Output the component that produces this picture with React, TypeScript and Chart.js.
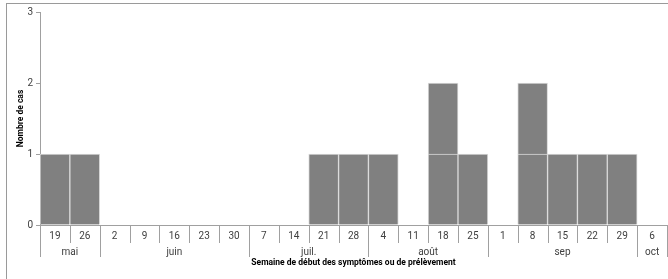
import React, { useEffect, useRef } from 'react';
import { Chart, registerables } from 'chart.js';
Chart.register(...registerables);

const weeks = ['19', '26', '2', '9', '16', '23', '30', '7', '14', '21', '28', '4', '11', '18', '25', '1', '8', '15', '22', '29', '6'];
const months = ['mai', 'juin', 'juil.', 'août', 'sep', 'oct'];
const monthSpans = [2, 5, 4, 4, 5, 1];
const case1 = [1, 1, null, null, null, null, null, null, null, 1, 1, 1, null, 1, 1, null, 1, 1, 1, 1, null];
const case2 = [null, null, null, null, null, null, null, null, null, null, null, null, null, 1, null, null, 1, null, null, null, null];
const yMax = 3;
const xTitle = 'Semaine de début des symptômes ou de prélèvement';
const yTitle = 'Nombre de cas';

const FONT = 'Roboto';
const TEXT = '#404040';
const LINE = '#a0a0a0';

const extras = {
  id: 'extras',
  beforeDraw(chart: any) {
    const ctx = chart.ctx;
    ctx.save();
    ctx.strokeStyle = '#9a9a9a';
    ctx.lineWidth = 1;
    ctx.strokeRect(6.5, 3.5, 800, 400);
    ctx.restore();
  },
  afterDraw(chart: any) {
    const ctx = chart.ctx;
    const x = chart.scales.x;
    const area = chart.chartArea;
    const bottom = area.bottom;
    const half = (x.getPixelForValue(1) - x.getPixelForValue(0)) / 2;
    ctx.save();
    ctx.strokeStyle = LINE;
    ctx.lineWidth = 1;
    const monthEdges = new Set<number>();
    let acc = 0;
    monthEdges.add(0);
    monthSpans.forEach((s) => { acc += s; monthEdges.add(acc); });
    for (let i = 0; i <= weeks.length; i++) {
      const px = Math.round(x.getPixelForValue(i) - half) + 0.5;
      const len = monthEdges.has(i) ? 32 : 18;
      ctx.beginPath();
      ctx.moveTo(px, bottom);
      ctx.lineTo(px, bottom + len);
      ctx.stroke();
    }
    ctx.fillStyle = TEXT;
    ctx.font = `10px ${FONT}`;
    ctx.textAlign = 'center';
    ctx.textBaseline = 'middle';
    acc = 0;
    months.forEach((m, k) => {
      const a = x.getPixelForValue(acc) - half;
      acc += monthSpans[k];
      const b = x.getPixelForValue(acc) - half;
      ctx.fillText(m, (a + b) / 2, bottom + 27);
    });
    ctx.fillStyle = '#000';
    ctx.font = `bold 8.5px ${FONT}`;
    ctx.fillText(xTitle, (area.left + area.right) / 2, bottom + 38);
    ctx.translate(21, (area.top + area.bottom) / 2);
    ctx.rotate(-Math.PI / 2);
    ctx.fillText(yTitle, 0, 0);
    ctx.restore();
  },
};

export default function App() {
  const ref = useRef<HTMLCanvasElement>(null);
  useEffect(() => {
    const chart = new Chart(ref.current as HTMLCanvasElement, {
      type: 'bar',
      data: {
        labels: weeks,
        datasets: [
          { data: case1 as any, backgroundColor: '#808080', borderColor: '#d9d9d9', borderWidth: 1, barPercentage: 1, categoryPercentage: 1 },
          { data: case2 as any, backgroundColor: '#808080', borderColor: '#d9d9d9', borderWidth: 1, barPercentage: 1, categoryPercentage: 1 },
        ],
      },
      options: {
        animation: false,
        responsive: false,
        layout: { padding: { top: 12, right: 1, left: 0, bottom: 0 } },
        plugins: { legend: { display: false }, tooltip: { enabled: false } },
        scales: {
          x: {
            stacked: true,
            grid: { display: false },
            border: { display: true, color: LINE },
            ticks: { color: TEXT, font: { family: FONT, size: 10 }, padding: -3, maxRotation: 0, autoSkip: false },
            afterFit: (s: any) => { s.height = 54; },
          },
          y: {
            stacked: true,
            min: 0,
            max: yMax,
            grid: { drawOnChartArea: false, drawTicks: true, tickLength: 4, color: LINE },
            border: { display: true, color: LINE },
            ticks: { stepSize: 1, color: TEXT, font: { family: FONT, size: 10 }, padding: 3 },
            afterFit: (s: any) => { s.width = 40; },
          },
        },
      },
      plugins: [extras],
    });
    return () => chart.destroy();
  }, []);
  return (
    <div style={{ position: 'fixed', left: 0, top: 0, width: 668, height: 279, background: '#fff' }}>
      <canvas ref={ref} width={668} height={279} />
    </div>
  );
}
